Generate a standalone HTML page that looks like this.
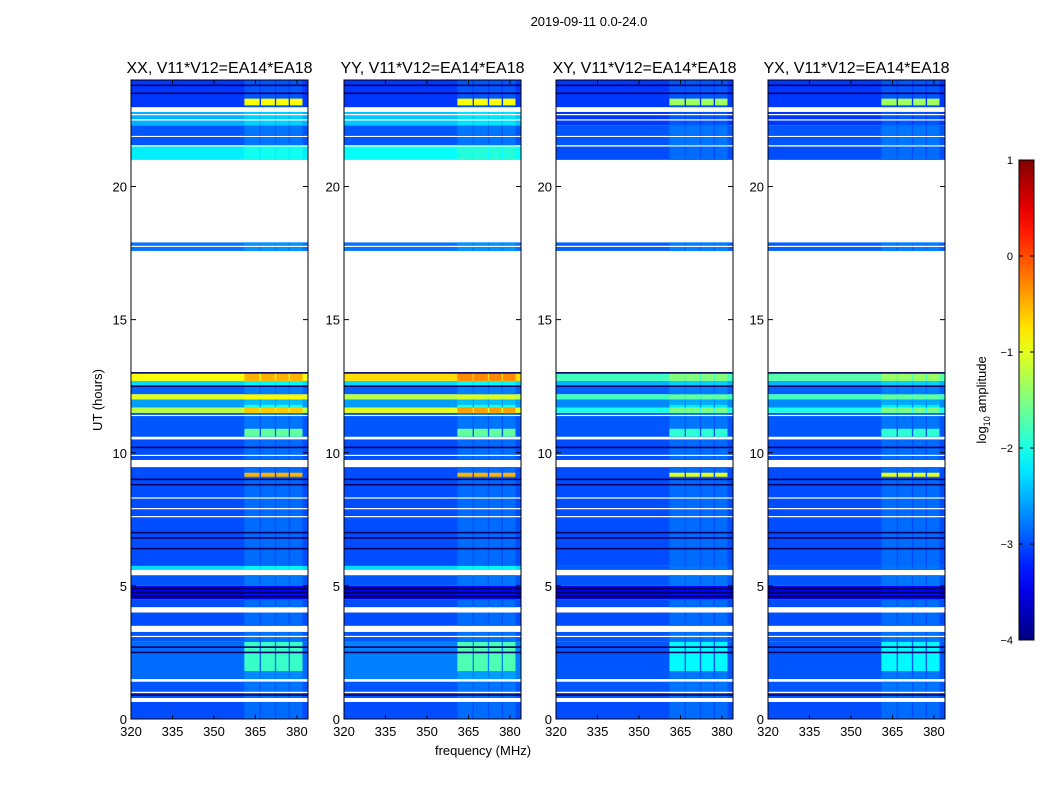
<!DOCTYPE html>
<html><head><meta charset="utf-8"><style>
body{margin:0;background:#fff;width:1050px;height:800px;overflow:hidden;font-family:"Liberation Sans",sans-serif}
svg{display:block}
</style></head><body>
<svg id="fig" width="1050" height="800" xmlns="http://www.w3.org/2000/svg" font-family="Liberation Sans, sans-serif"></svg>
<script>
// ---- data ----
const pols = ["XX","YY","XY","YX"];
// time segments: [tStart, tEnd] with per-pol log10 amplitude
const segStart = [0,0.79,1.5,2.9,3.5,4.2,4.5,5.0,5.6,5.75,9.73,10.6,11.5,11.7,12.0,12.2,12.5,12.7,17.58,21.0,21.55,21.9,22.3,22.98];
const segEnd   = [0.64,1.4,2.9,3.27,4.0,4.5,5.0,5.4,5.75,9.46,10.5,11.5,11.7,12.0,12.2,12.5,12.7,13.0,17.9,21.5,21.86,22.3,22.8,24.0];
const levXX = [-3.0,-2.95,-2.85,-2.95,-3.0,-3.0,-3.5,-2.95,-2.3,-3.0,-3.0,-2.95,-1.2,-2.6,-1.0,-2.9,-2.3,-0.9,-2.8,-2.2,-2.95,-2.95,-2.5,-3.1];
const levYY = [-3.0,-2.95,-2.75,-2.95,-3.0,-3.0,-3.5,-2.95,-2.3,-3.0,-3.0,-2.95,-1.0,-2.6,-1.2,-2.9,-2.3,-0.7,-2.8,-2.1,-2.95,-2.95,-2.4,-3.1];
const levXY = [-3.0,-2.95,-2.95,-2.95,-3.0,-3.0,-3.5,-2.95,-2.95,-3.0,-3.0,-2.95,-2.0,-2.7,-1.8,-2.9,-2.5,-1.8,-2.9,-3.0,-2.95,-2.95,-3.1,-3.1];
const levYX = [-3.0,-2.95,-2.95,-2.95,-3.0,-3.0,-3.5,-2.95,-2.95,-3.0,-3.0,-2.95,-2.0,-2.7,-1.8,-2.9,-2.5,-1.7,-2.9,-3.0,-2.95,-2.95,-3.1,-3.1];
// dark (flagged) lines and thin white lines, hours
const darkLines = [0.9,2.5,2.7,4.6,4.75,4.9,6.4,6.8,7.0,8.8,9.0,10.2,12.5,13.0,23.5,23.8];
const whiteLines = [1.0,3.1,7.6,7.9,8.3,9.9,11.4,17.75,22.5,22.7];
// RFI channel blocks (MHz) and boosts
const blockLo = [361,367,372.5,377.5];
const blockHi = [366.5,372,377,382];
const boostStart = [0,1.8,9.1,10.55,11.5,12.7,23.05];
const boostEnd   = [24,2.9,9.25,10.9,11.8,13.0,23.3];
const boostVal   = [0.15,1.0,2.5,1.3,0.6,0.4,2.2];
const xTicks = [320,335,350,365,380];
const yTicks = [0,5,10,15,20];
const cbTicks = [1,0,-1,-2,-3,-4];

// ---- layout ----
const panelLeft=[131,344,556,768], PW=177, PT=80, PB=719;
const fMin=320,fMax=384,tMin=0,tMax=24,vMin=-4,vMax=1;
const svg=document.getElementById('fig');
const NS="http://www.w3.org/2000/svg";
function mk(tag,attrs,parent){const e=document.createElementNS(NS,tag);for(const k in attrs)e.setAttribute(k,attrs[k]);(parent||svg).appendChild(e);return e;}
function jet(v){let t=Math.max(0,Math.min(1,(v-vMin)/(vMax-vMin)));
 const c=x=>Math.max(0,Math.min(1,x));
 const r=c(1.5-Math.abs(4*t-3)),g=c(1.5-Math.abs(4*t-2)),b=c(1.5-Math.abs(4*t-1));
 return `rgb(${Math.round(r*255)},${Math.round(g*255)},${Math.round(b*255)})`;}
const levels=[levXX,levYY,levXY,levYX];

pols.forEach((p,pi)=>{
 const x0=panelLeft[pi];
 const xs=f=>x0+(f-fMin)/(fMax-fMin)*PW;
 const ys=t=>PB-(t-tMin)/(tMax-tMin)*(PB-PT);
 const g=mk('g',{});
 
 
 segStart.forEach((s,i)=>{
  const e=segEnd[i], lv=levels[pi][i];
  const r=mk('rect',{x:x0,y:ys(e),width:PW,height:ys(s)-ys(e),fill:jet(lv)},g);
  
  
  boostStart.forEach((bs,bi)=>{
   const lo=Math.max(bs,s),hi=Math.min(boostEnd[bi],e);
   if(hi<=lo)return;
   const scale=(pi>=2&&bi>0)?0.8:1;
   blockLo.forEach((fl,ci)=>{
    const b=mk('rect',{x:xs(fl),y:ys(hi),width:xs(blockHi[ci])-xs(fl),height:ys(lo)-ys(hi),fill:jet(lv+boostVal[bi]*scale)},g);
    
    
   });
  });
 });
 darkLines.forEach(h=>{const l=mk('rect',{x:x0,y:ys(h)-0.8,width:PW,height:1.6,fill:'#000060'},g);
  });
 whiteLines.forEach(h=>{const l=mk('rect',{x:x0,y:ys(h)-0.6,width:PW,height:1.2,fill:'#fff'},g);
  });
 const fr=mk('rect',{x:x0,y:PT,width:PW,height:PB-PT,fill:'none',stroke:'#000','stroke-width':1},g);
 
 xTicks.forEach(f=>{
  mk('line',{x1:xs(f),x2:xs(f),y1:PB,y2:PB-4,stroke:'#000'},g);
  mk('line',{x1:xs(f),x2:xs(f),y1:PT,y2:PT+4,stroke:'#000'},g);
  const t=mk('text',{x:xs(f),y:PB+17,'font-size':13,'text-anchor':'middle'},g);t.textContent=f;
  
 });
 yTicks.forEach(v=>{
  mk('line',{x1:x0,x2:x0+5,y1:ys(v),y2:ys(v),stroke:'#000'},g);
  mk('line',{x1:x0+PW,x2:x0+PW-5,y1:ys(v),y2:ys(v),stroke:'#000'},g);
  const t=mk('text',{x:x0-4,y:ys(v)+5,'font-size':13,'text-anchor':'end'},g);t.textContent=v;
  
 });
 const tt=mk('text',{x:x0+PW/2,y:73,'font-size':16,'text-anchor':'middle'},g);
 tt.textContent=p+", V11*V12=EA14*EA18";
 
});

let t=mk('text',{x:589,y:26,'font-size':13,'text-anchor':'middle'});t.textContent="2019-09-11 0.0-24.0";

t=mk('text',{x:483,y:755,'font-size':13,'text-anchor':'middle'});t.textContent="frequency (MHz)";

t=mk('text',{x:0,y:0,'font-size':13,'text-anchor':'middle',transform:'translate(102,400) rotate(-90)'});t.textContent="UT (hours)";


const cbX=1019,cbW=15,cbT=160,cbB=640;
const defs=mk('defs',{});
const grad=mk('linearGradient',{id:'jetg',x1:0,y1:1,x2:0,y2:0},defs);
for(let i=0;i<=20;i++){mk('stop',{offset:i/20,'stop-color':jet(vMin+(vMax-vMin)*i/20)},grad);}
const cb=mk('rect',{x:cbX,y:cbT,width:cbW,height:cbB-cbT,fill:'url(#jetg)',stroke:'#000'});

cbTicks.forEach(v=>{const y=cbB-(v-vMin)/(vMax-vMin)*(cbB-cbT);
 mk('line',{x1:cbX,x2:cbX+4,y1:y,y2:y,stroke:'#000'});
 mk('line',{x1:cbX+cbW,x2:cbX+cbW-4,y1:y,y2:y,stroke:'#000'});
 const l=mk('text',{x:1013,y:y+4,'font-size':11,'text-anchor':'end'});l.textContent=v<0?'\u2212'+(-v):v;
 });
t=mk('text',{x:0,y:0,'font-size':13,'text-anchor':'middle',transform:'translate(986,400) rotate(-90)'});
t.innerHTML='log<tspan font-size="9" dy="4">10</tspan><tspan dy="-4"> amplitude</tspan>';

</script>
</body></html>
